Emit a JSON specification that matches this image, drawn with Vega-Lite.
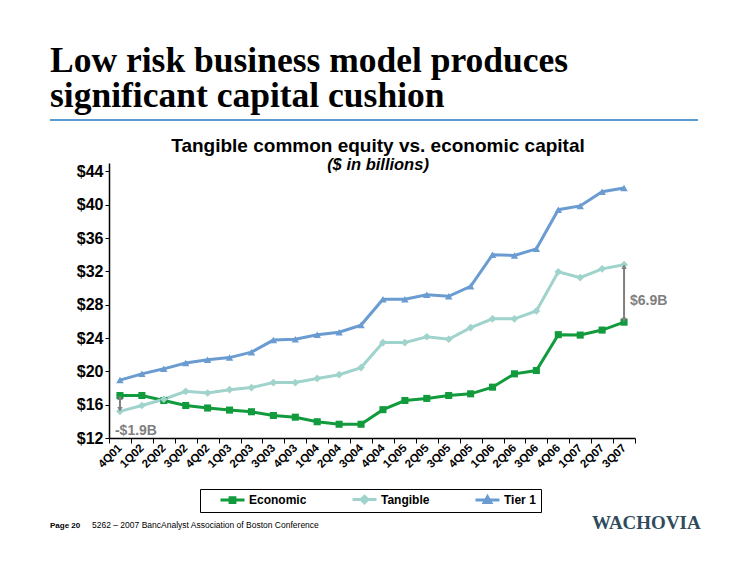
{
  "$schema": "https://vega.github.io/schema/vega-lite/v6.json",
  "background": "white",
  "padding": {"left": 50, "top": 43, "right": 5, "bottom": 5},
  "config": {"font": "Liberation Sans", "view": {"stroke": null}},
  "datasets": {
    "main": [
      {"q": "4Q01", "series": "Economic", "v": 17.1}, {"q": "1Q02", "series": "Economic", "v": 17.1}, {"q": "2Q02", "series": "Economic", "v": 16.5}, {"q": "3Q02", "series": "Economic", "v": 15.9}, {"q": "4Q02", "series": "Economic", "v": 15.6}, {"q": "1Q03", "series": "Economic", "v": 15.35}, {"q": "2Q03", "series": "Economic", "v": 15.15}, {"q": "3Q03", "series": "Economic", "v": 14.7}, {"q": "4Q03", "series": "Economic", "v": 14.5}, {"q": "1Q04", "series": "Economic", "v": 13.95}, {"q": "2Q04", "series": "Economic", "v": 13.65}, {"q": "3Q04", "series": "Economic", "v": 13.65}, {"q": "4Q04", "series": "Economic", "v": 15.4}, {"q": "1Q05", "series": "Economic", "v": 16.5}, {"q": "2Q05", "series": "Economic", "v": 16.75}, {"q": "3Q05", "series": "Economic", "v": 17.1}, {"q": "4Q05", "series": "Economic", "v": 17.3}, {"q": "1Q06", "series": "Economic", "v": 18.1}, {"q": "2Q06", "series": "Economic", "v": 19.7}, {"q": "3Q06", "series": "Economic", "v": 20.1}, {"q": "4Q06", "series": "Economic", "v": 24.4}, {"q": "1Q07", "series": "Economic", "v": 24.35}, {"q": "2Q07", "series": "Economic", "v": 24.95}, {"q": "3Q07", "series": "Economic", "v": 25.9},
      {"q": "4Q01", "series": "Tangible", "v": 15.2}, {"q": "1Q02", "series": "Tangible", "v": 15.9}, {"q": "2Q02", "series": "Tangible", "v": 16.65}, {"q": "3Q02", "series": "Tangible", "v": 17.6}, {"q": "4Q02", "series": "Tangible", "v": 17.4}, {"q": "1Q03", "series": "Tangible", "v": 17.8}, {"q": "2Q03", "series": "Tangible", "v": 18.05}, {"q": "3Q03", "series": "Tangible", "v": 18.65}, {"q": "4Q03", "series": "Tangible", "v": 18.65}, {"q": "1Q04", "series": "Tangible", "v": 19.15}, {"q": "2Q04", "series": "Tangible", "v": 19.6}, {"q": "3Q04", "series": "Tangible", "v": 20.45}, {"q": "4Q04", "series": "Tangible", "v": 23.45}, {"q": "1Q05", "series": "Tangible", "v": 23.45}, {"q": "2Q05", "series": "Tangible", "v": 24.15}, {"q": "3Q05", "series": "Tangible", "v": 23.85}, {"q": "4Q05", "series": "Tangible", "v": 25.25}, {"q": "1Q06", "series": "Tangible", "v": 26.3}, {"q": "2Q06", "series": "Tangible", "v": 26.3}, {"q": "3Q06", "series": "Tangible", "v": 27.25}, {"q": "4Q06", "series": "Tangible", "v": 31.95}, {"q": "1Q07", "series": "Tangible", "v": 31.25}, {"q": "2Q07", "series": "Tangible", "v": 32.3}, {"q": "3Q07", "series": "Tangible", "v": 32.8},
      {"q": "4Q01", "series": "Tier 1", "v": 18.95}, {"q": "1Q02", "series": "Tier 1", "v": 19.7}, {"q": "2Q02", "series": "Tier 1", "v": 20.3}, {"q": "3Q02", "series": "Tier 1", "v": 21.0}, {"q": "4Q02", "series": "Tier 1", "v": 21.4}, {"q": "1Q03", "series": "Tier 1", "v": 21.65}, {"q": "2Q03", "series": "Tier 1", "v": 22.3}, {"q": "3Q03", "series": "Tier 1", "v": 23.75}, {"q": "4Q03", "series": "Tier 1", "v": 23.85}, {"q": "1Q04", "series": "Tier 1", "v": 24.4}, {"q": "2Q04", "series": "Tier 1", "v": 24.7}, {"q": "3Q04", "series": "Tier 1", "v": 25.55}, {"q": "4Q04", "series": "Tier 1", "v": 28.65}, {"q": "1Q05", "series": "Tier 1", "v": 28.65}, {"q": "2Q05", "series": "Tier 1", "v": 29.2}, {"q": "3Q05", "series": "Tier 1", "v": 29.0}, {"q": "4Q05", "series": "Tier 1", "v": 30.2}, {"q": "1Q06", "series": "Tier 1", "v": 34.0}, {"q": "2Q06", "series": "Tier 1", "v": 33.9}, {"q": "3Q06", "series": "Tier 1", "v": 34.7}, {"q": "4Q06", "series": "Tier 1", "v": 39.4}, {"q": "1Q07", "series": "Tier 1", "v": 39.85}, {"q": "2Q07", "series": "Tier 1", "v": 41.55}, {"q": "3Q07", "series": "Tier 1", "v": 42.0}
    ],
    "arrows": [
      {"q": "4Q01", "v": 16.85, "v2": 15.45},
      {"q": "3Q07", "v": 32.55, "v2": 26.15}
    ],
    "heads": [
      {"q": "4Q01", "v": 16.85, "dir": "up"},
      {"q": "4Q01", "v": 15.45, "dir": "down"},
      {"q": "3Q07", "v": 32.55, "dir": "up"},
      {"q": "3Q07", "v": 26.15, "dir": "down"}
    ],
    "notes": [
      {"q": "4Q01", "v": 12.35, "t": "-$1.9B", "side": "left"},
      {"q": "3Q07", "v": 28.5, "t": "$6.9B", "side": "right"}
    ]
  },
  "spacing": 15,
  "vconcat": [
    {
      "width": 648,
      "height": 2,
      "view": {"fill": "#5b9bd5", "stroke": null},
      "data": {"values": []},
      "mark": "point",
      "title": {
        "text": ["Low risk business model produces", "significant capital cushion"],
        "anchor": "start",
        "font": "Liberation Serif",
        "fontSize": 35.5,
        "fontWeight": "bold",
        "lineHeight": 35,
        "color": "#000000",
        "baseline": "alphabetic",
        "offset": -23
      }
    },
    {
      "spacing": 44,
      "vconcat": [
        {
          "spacing": 0,
          "hconcat": [
            {
              "width": 1,
              "height": 1,
              "data": {"values": []},
              "mark": "point"
            },
            {
              "width": 526,
              "height": 275,
              "title": {
                "text": "Tangible common equity vs. economic capital",
                "subtitle": "($ in billions)",
                "anchor": "middle",
                "fontSize": 19,
                "fontWeight": "bold",
                "color": "#000000",
                "subtitleFontSize": 16.5,
                "subtitleFontStyle": "italic",
                "subtitleFontWeight": "bold",
                "subtitleColor": "#000000",
                "subtitlePadding": 1,
                "offset": -10,
                "dx": 6
              },
              "encoding": {
                "x": {
                  "field": "q",
                  "type": "ordinal",
                  "sort": null,
                  "scale": {"paddingInner": 0, "paddingOuter": 0},
                  "axis": {
                    "title": null,
                    "tickBand": "extent",
                    "labelAngle": -45,
                    "labelAlign": "right",
                    "labelBaseline": "middle",
                    "labelFontSize": 11.5,
                    "labelFontWeight": "bold",
                    "labelColor": "#000000",
                    "labelPadding": 3,
                    "tickSize": 5,
                    "tickColor": "#000000",
                    "domainColor": "#000000",
                    "domainWidth": 1.5
                  }
                },
                "y": {
                  "field": "v",
                  "type": "quantitative",
                  "scale": {"domain": [12, 45], "nice": false, "zero": false},
                  "axis": {
                    "title": null,
                    "grid": false,
                    "values": [12, 16, 20, 24, 28, 32, 36, 40, 44],
                    "labelExpr": "'$' + datum.value",
                    "labelFontSize": 16,
                    "labelFontWeight": "bold",
                    "labelColor": "#000000",
                    "labelPadding": 2,
                    "labelOverlap": false,
                    "tickSize": 4,
                    "tickColor": "#000000",
                    "domainColor": "#000000",
                    "domainWidth": 1.5,
                    "minExtent": 58
                  }
                }
              },
              "layer": [
                {
                  "data": {"name": "main"},
                  "mark": {"type": "line", "strokeWidth": 3},
                  "encoding": {
                    "color": {
                      "field": "series",
                      "type": "nominal",
                      "scale": {"domain": ["Economic", "Tangible", "Tier 1"], "range": ["#119b3d", "#9fd3cc", "#6a9bd1"]},
                      "legend": {
                        "title": "\u00a0",
                        "titleOrient": "right",
                        "titlePadding": 2,
                        "orient": "none",
                        "legendX": 150,
                        "legendY": 370,
                        "direction": "horizontal",
                        "strokeColor": "#000000",
                        "padding": 3,
                        "symbolSize": 144,
                        "symbolOffset": 22,
                        "labelOffset": 9,
                        "columnPadding": 28,
                        "labelFont": "Liberation Sans",
                        "labelFontSize": 12,
                        "labelFontWeight": "bold",
                        "labelColor": "#000000",
                        "encode": {
                          "symbols": {
                            "update": {
                              "shape": {"signal": "datum.value == 'Economic' ? 'M-2,0L2,0M-0.4,-0.4L0.4,-0.4L0.4,0.4L-0.4,0.4Z' : datum.value == 'Tangible' ? 'M-2,0L2,0M0,-0.55L0.55,0L0,0.55L-0.55,0Z' : 'M-2,0L2,0M0,-0.55L0.55,0.4L-0.55,0.4Z'"},
                              "fill": {"signal": "datum.value == 'Economic' ? '#119b3d' : datum.value == 'Tangible' ? '#9fd3cc' : '#6a9bd1'"},
                              "stroke": {"signal": "datum.value == 'Economic' ? '#119b3d' : datum.value == 'Tangible' ? '#9fd3cc' : '#6a9bd1'"},
                              "strokeWidth": {"value": 3},
                              "opacity": {"value": 1}
                            }
                          }
                        }
                      }
                    }
                  }
                },
                {
                  "data": {"name": "main"},
                  "transform": [{"filter": "datum.series == 'Economic'"}],
                  "mark": {"type": "point", "shape": "square", "filled": true, "size": 50, "opacity": 1, "color": "#119b3d"}
                },
                {
                  "data": {"name": "main"},
                  "transform": [{"filter": "datum.series == 'Tangible'"}],
                  "mark": {"type": "point", "shape": "diamond", "filled": true, "size": 60, "opacity": 1, "color": "#9fd3cc"}
                },
                {
                  "data": {"name": "main"},
                  "transform": [{"filter": "datum.series == 'Tier 1'"}],
                  "mark": {"type": "point", "shape": "triangle-up", "filled": true, "size": 55, "opacity": 1, "color": "#6a9bd1"}
                },
                {
                  "data": {"name": "arrows"},
                  "mark": {"type": "rule", "color": "#7f7f7f", "strokeWidth": 2},
                  "encoding": {
                    "y2": {"field": "v2"}
                  }
                },
                {
                  "data": {"name": "heads"},
                  "transform": [{"filter": "datum.dir == 'up'"}],
                  "mark": {"type": "point", "shape": "triangle-up", "filled": true, "color": "#7f7f7f", "size": 30, "opacity": 1}
                },
                {
                  "data": {"name": "heads"},
                  "transform": [{"filter": "datum.dir == 'down'"}],
                  "mark": {"type": "point", "shape": "triangle-down", "filled": true, "color": "#7f7f7f", "size": 30, "opacity": 1}
                },
                {
                  "data": {"name": "notes"},
                  "transform": [{"filter": "datum.side == 'left'"}],
                  "mark": {"type": "text", "align": "left", "baseline": "alphabetic", "dx": -5, "fontSize": 14, "fontWeight": "bold", "color": "#7f7f7f"},
                  "encoding": {
                    "text": {"field": "t"}
                  }
                },
                {
                  "data": {"name": "notes"},
                  "transform": [{"filter": "datum.side == 'right'"}],
                  "mark": {"type": "text", "align": "left", "baseline": "middle", "dx": 6, "fontSize": 14, "fontWeight": "bold", "color": "#7f7f7f"},
                  "encoding": {
                    "text": {"field": "t"}
                  }
                }
              ]
            }
          ]
        },
        {
          "spacing": 0,
          "hconcat": [
            {
              "width": 42,
              "height": 1,
              "data": {"values": []},
              "mark": "point",
              "title": {"text": "Page 20", "anchor": "start", "fontSize": 8, "fontWeight": "bold", "color": "#000000", "baseline": "alphabetic", "offset": 0}
            },
            {
              "width": 500,
              "height": 1,
              "data": {"values": []},
              "mark": "point",
              "title": {"text": "5262 \u2013 2007 BancAnalyst Association of Boston Conference", "anchor": "start", "fontSize": 8.5, "fontWeight": "normal", "color": "#000000", "baseline": "alphabetic", "offset": 0}
            },
            {
              "width": 110,
              "height": 1,
              "data": {"values": []},
              "mark": "point",
              "title": {"text": "WACHOVIA", "anchor": "start", "font": "Liberation Serif", "fontSize": 19, "fontWeight": "bold", "color": "#2f4b5c", "baseline": "alphabetic", "offset": 0, "dy": 12}
            }
          ]
        }
      ]
    }
  ]
}
